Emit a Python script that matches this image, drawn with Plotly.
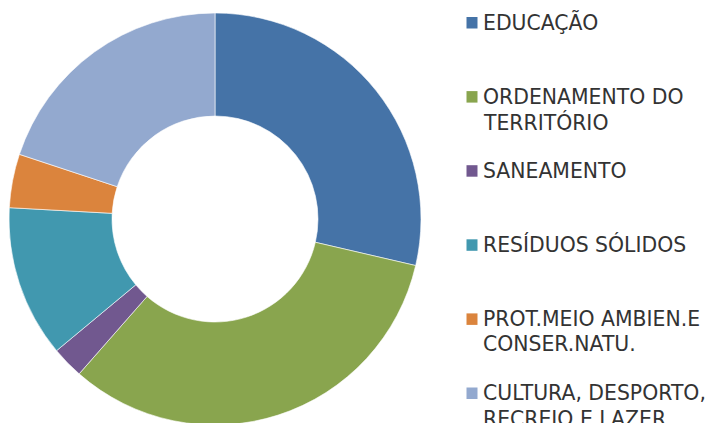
import plotly.graph_objects as go

# Data (shares, in %)
labels = ["EDUCAÇÃO", "ORDENAMENTO DO TERRITÓRIO", "SANEAMENTO",
          "RESÍDUOS SÓLIDOS", "PROT.MEIO AMBIEN.E CONSER.NATU.",
          "CULTURA, DESPORTO, RECREIO E LAZER"]
values = [28.6, 32.8, 2.5, 11.9, 4.2, 19.9]
legend_lines = [["EDUCAÇÃO"],
                ["ORDENAMENTO DO", "TERRITÓRIO"],
                ["SANEAMENTO"],
                ["RESÍDUOS SÓLIDOS"],
                ["PROT.MEIO AMBIEN.E", "CONSER.NATU."],
                ["CULTURA, DESPORTO,", "RECREIO E LAZER"]]
colors = ["#4573A7", "#89A54E", "#71588F", "#4198AF", "#DB843D", "#93A9CF"]

W, H = 715, 423
OFF = 8  # page body margin

fig = go.Figure(go.Pie(
    labels=labels, values=values, hole=0.5, sort=False,
    direction="clockwise", rotation=0,
    marker=dict(colors=colors, line=dict(color="white", width=0.6)),
    textinfo="none", showlegend=False,
    domain=dict(x=[1 / W, 413 / W], y=[6 / H, 418 / H]),
))

font = dict(family="DejaVu Sans, sans-serif", size=20.4, color="#333333")
shapes, annotations = [], []
item_gap = 74.1
line_gap = 25.5
for i, lines in enumerate(legend_lines):
    cy = 22.5 + i * item_gap - OFF
    shapes.append(dict(type="rect", xref="paper", yref="paper",
                       x0=(466.5 - OFF) / W, x1=(477.5 - OFF) / W,
                       y0=1 - (cy + 6) / H, y1=1 - (cy - 5.5) / H,
                       fillcolor=colors[i], line=dict(width=0)))
    for j, t in enumerate(lines):
        ly = cy + j * line_gap
        annotations.append(dict(text=t, xref="paper", yref="paper",
                                x=(482 - OFF) / W, y=1 - ly / H, xanchor="left",
                                yanchor="middle", showarrow=False,
                                font=font, borderpad=0))

fig.update_layout(width=W, height=H, margin=dict(l=0, r=0, t=0, b=0),
                  paper_bgcolor="white", plot_bgcolor="white",
                  shapes=shapes, annotations=annotations)
fig.write_html("out.html")
